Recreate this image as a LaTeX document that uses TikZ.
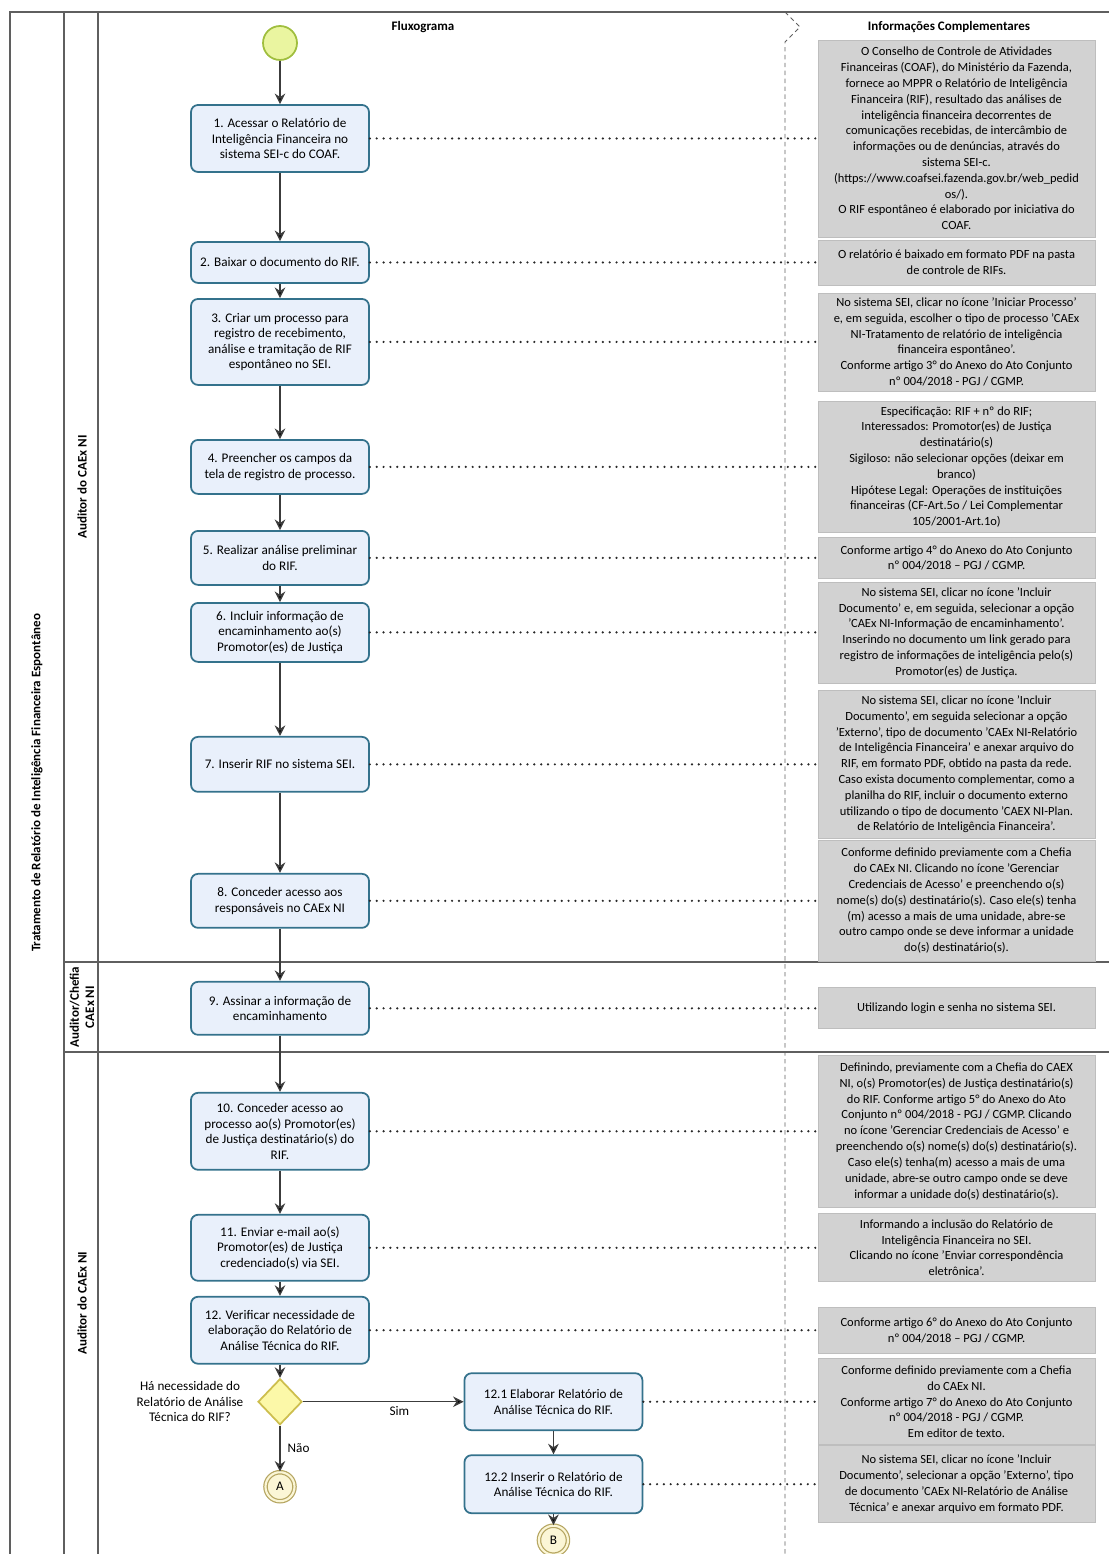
\documentclass[tikz,border=0pt]{standalone}
\usepackage{fontspec}
\setmainfont{Carlito}
\usetikzlibrary{
    arrows.meta,
    shapes.geometric,
    positioning
}
\definecolor{taskfill}{RGB}{233,240,251}
\definecolor{taskline}{RGB}{52,114,140}
\definecolor{notefill}{RGB}{210,210,210}
\definecolor{noteline}{RGB}{190,190,190}
\definecolor{flowline}{RGB}{60,60,60}
\definecolor{dotline}{RGB}{40,40,40}
\definecolor{laneline}{RGB}{95,95,95}
\definecolor{startfill}{RGB}{234,245,160}
\definecolor{startline}{RGB}{160,190,62}
\definecolor{endfill}{RGB}{251,246,214}
\definecolor{endline}{RGB}{182,166,98}
\definecolor{gwfill}{RGB}{252,248,168}
\definecolor{gwline}{RGB}{205,190,78}
\newcommand{\tasksize}{\fontsize{7.5}{8.8}\selectfont}
\newcommand{\notesize}{\fontsize{7.1}{9}\selectfont}
\newcommand{\lanesize}{\fontsize{7.4}{8.6}\selectfont\bfseries}
\tikzset{
    >={Stealth[length=6pt,width=6pt]},
    flow/.style={->, draw=flowline, line width=0.8pt},
    task/.style={draw=taskline, fill=taskfill, line width=1pt, rounded corners=4pt,
        minimum width=3.56cm, align=center, inner sep=2pt, font=\tasksize},
    note/.style={draw=noteline, fill=notefill, line width=0.4pt, minimum width=5.54cm,
        align=center, inner sep=1pt, font=\notesize},
    assoc/.style={draw=dotline, line width=1.4pt, line cap=round, dash pattern=on 0pt off 3.9pt},
    lane/.style={draw=laneline, line width=0.7pt},
    lanelabel/.style={rotate=90, align=center, font=\lanesize},
    group/.style={draw=laneline, line width=0.5pt, dash pattern=on 2.5pt off 2pt},
    startev/.style={circle, draw=startline, fill=startfill, line width=1pt, minimum size=0.68cm},
    endev/.style={circle, draw=endline, double=endfill, double distance=1.2pt, fill=endfill,
        line width=0.7pt, minimum size=0.58cm, inner sep=0pt, font=\tasksize},
    gateway/.style={diamond, draw=gwline, fill=gwfill, line width=1pt, minimum width=0.88cm,
        minimum height=0.92cm, inner sep=0pt},
}

\begin{document}
\begin{tikzpicture}[x=0.02cm, y=-0.02cm, on grid]
   \useasboundingbox (0,0) rectangle (1109,1554);
   % pool and lanes
   \draw[lane] (10,1554) -- (10,12) -- (1109,12);
   \draw[lane] (64,12) -- (64,1554);
   \draw[lane] (98,12) -- (98,1554);
   \draw[lane] (64,962) -- (1109,962);
   \draw[lane] (64,1052) -- (1109,1052);
   \draw[group] (785,12) -- (800,27) -- (785,42) -- (785,1554);
   \node[lanelabel] (pool) at (37,783) {Tratamento de Relatório de Inteligência Financeira Espontâneo};
   \node[lanelabel] (lane_1) at (82,487) {Auditor do CAEx NI};
   \node[lanelabel] (lane_2) at (82,1007) {Auditor/Chefia\\CAEx NI};
   \node[lanelabel] (lane_3) at (82,1303) {Auditor do CAEx NI};
   \node[font=\lanesize] (h_flow) at (423,27) {Fluxograma};
   \node[font=\lanesize] (h_info) at (949,27) {Informações Complementares};
   \coordinate (ncol) at (956.5,0);

   % flow
   \node[startev] (start) at (280,43) {};
   \node[task, minimum height=1.34cm] (t_1) [below=1.91cm of start] {1. Acessar o Relatório de\\Inteligência Financeira no\\sistema SEI-c do COAF.};
   \node[task, minimum height=0.82cm] (t_2) [below=2.48cm of t_1] {2. Baixar o documento do RIF.};
   \node[task, minimum height=1.72cm] (t_3) [below=1.59cm of t_2] {3. Criar um processo para\\registro de recebimento,\\análise e tramitação de RIF\\espontâneo no SEI.};
   \node[task, minimum height=1.08cm] (t_4) [below=2.5cm of t_3] {4. Preencher os campos da\\tela de registro de processo.};
   \node[task, minimum height=1.08cm] (t_5) [below=1.82cm of t_4] {5. Realizar análise preliminar\\do RIF.};
   \node[task, minimum height=1.18cm] (t_6) [below=1.49cm of t_5] {6. Incluir informação de\\encaminhamento ao(s)\\Promotor(es) de Justiça};
   \node[task, minimum height=1.1cm] (t_7) [below=2.64cm of t_6] {7. Inserir RIF no sistema SEI.};
   \node[task, minimum height=1.08cm] (t_8) [below=2.73cm of t_7] {8. Conceder acesso aos\\responsáveis no CAEx NI};
   \node[task, minimum height=1.06cm] (t_9) [below=2.15cm of t_8] {9. Assinar a informação de\\encaminhamento};
   \node[task, minimum height=1.54cm] (t_10) [below=2.46cm of t_9] {10. Conceder acesso ao\\processo ao(s) Promotor(es)\\de Justiça destinatário(s) do\\RIF.};
   \node[task, minimum height=1.32cm] (t_11) [below=2.33cm of t_10] {11. Enviar e-mail ao(s)\\Promotor(es) de Justiça\\credenciado(s) via SEI.};
   \node[task, minimum height=1.34cm] (t_12) [below=1.65cm of t_11] {12. Verificar necessidade de\\elaboração do Relatório de\\Análise Técnica do RIF.};
   \node[gateway] (gw) [below=1.43cm of t_12] {};
   \node[align=center, font=\tasksize] (gw_label) [left=1.8cm of gw] {Há necessidade do\\Relatório de Análise\\Técnica do RIF?};
   \node[endev] (e_A) [below=1.7cm of gw] {A};
   \node[task, minimum height=1.14cm] (t_121) [right=5.47cm of gw] {12.1 Elaborar Relatório de\\Análise Técnica do RIF.};
   \node[task, minimum height=1.16cm] (t_122) [below=1.65cm of t_121] {12.2 Inserir o Relatório de\\Análise Técnica do RIF.};
   \node[endev] (e_B) [below=1.12cm of t_122] {B};

   \path[flow]
    (start) edge (t_1)
    (t_1) edge (t_2)
    (t_2) edge (t_3)
    (t_3) edge (t_4)
    (t_4) edge (t_5)
    (t_5) edge (t_6)
    (t_6) edge (t_7)
    (t_7) edge (t_8)
    (t_8) edge (t_9)
    (t_9) edge (t_10)
    (t_10) edge (t_11)
    (t_11) edge (t_12)
    (t_12) edge (gw)
    (gw) edge node[pos=0.6, anchor=north, inner sep=2pt, font=\tasksize] {Sim} (t_121)
    (gw) edge node[anchor=west, inner sep=4pt, font=\tasksize] {Não} (e_A)
    (t_121) edge (t_122)
    (t_122) edge (e_B);

   % notes
   \node[note, minimum height=3.94cm] (n_1) at (t_1 -| ncol) {O Conselho de Controle de Atividades\\Financeiras (COAF), do Ministério da Fazenda,\\fornece ao MPPR o Relatório de Inteligência\\Financeira (RIF), resultado das análises de\\inteligência financeira decorrentes de\\comunicações recebidas, de intercâmbio de\\informações ou de denúncias, através do\\sistema SEI-c.\\(https://www.coafsei.fazenda.gov.br/web\_pedid\\os/).\\O RIF espontâneo é elaborado por iniciativa do\\COAF.};
   \node[note, minimum height=0.9cm] (n_2) at (t_2 -| ncol) {O relatório é baixado em formato PDF na pasta\\de controle de RIFs.};
   \node[note, minimum height=1.96cm] (n_3) at (t_3 -| ncol) {No sistema SEI, clicar no ícone 'Iniciar Processo'\\e, em seguida, escolher o tipo de processo 'CAEx\\NI-Tratamento de relatório de inteligência\\financeira espontâneo'.\\Conforme artigo 3° do Anexo do Ato Conjunto\\nº 004/2018 - PGJ / CGMP.};
   \node[note, minimum height=2.62cm] (n_4) at (t_4 -| ncol) {Especificação: RIF + nº do RIF;\\Interessados: Promotor(es) de Justiça\\destinatário(s)\\Sigiloso: não selecionar opções (deixar em\\branco)\\Hipótese Legal: Operações de instituições\\financeiras (CF-Art.5o / Lei Complementar\\105/2001-Art.1o)};
   \node[note, minimum height=0.82cm] (n_5) at (t_5 -| ncol) {Conforme artigo 4° do Anexo do Ato Conjunto\\nº 004/2018 – PGJ / CGMP.};
   \node[note, minimum height=2.02cm] (n_6) at (t_6 -| ncol) {No sistema SEI, clicar no ícone 'Incluir\\Documento' e, em seguida, selecionar a opção\\'CAEx NI-Informação de encaminhamento'.\\Inserindo no documento um link gerado para\\registro de informações de inteligência pelo(s)\\Promotor(es) de Justiça.};
   \node[note, minimum height=2.98cm] (n_7) at (t_7 -| ncol) {No sistema SEI, clicar no ícone 'Incluir\\Documento', em seguida selecionar a opção\\'Externo', tipo de documento 'CAEx NI-Relatório\\de Inteligência Financeira' e anexar arquivo do\\RIF, em formato PDF, obtido na pasta da rede.\\Caso exista documento complementar, como a\\planilha do RIF, incluir o documento externo\\utilizando o tipo de documento 'CAEX NI-Plan.\\de Relatório de Inteligência Financeira'.};
   \node[note, minimum height=2.42cm] (n_8) at (t_8 -| ncol) {Conforme definido previamente com a Chefia\\do CAEx NI. Clicando no ícone 'Gerenciar\\Credenciais de Acesso' e preenchendo o(s)\\nome(s) do(s) destinatário(s). Caso ele(s) tenha\\(m) acesso a mais de uma unidade, abre-se\\outro campo onde se deve informar a unidade\\do(s) destinatário(s).};
   \node[note, minimum height=0.82cm] (n_9) at (t_9 -| ncol) {Utilizando login e senha no sistema SEI.};
   \node[note, minimum height=3.04cm] (n_10) at (t_10 -| ncol) {Definindo, previamente com a Chefia do CAEX\\NI, o(s) Promotor(es) de Justiça destinatário(s)\\do RIF. Conforme artigo 5° do Anexo do Ato\\Conjunto nº 004/2018 - PGJ / CGMP. Clicando\\no ícone 'Gerenciar Credenciais de Acesso' e\\preenchendo o(s) nome(s) do(s) destinatário(s).\\Caso ele(s) tenha(m) acesso a mais de uma\\unidade, abre-se outro campo onde se deve\\informar a unidade do(s) destinatário(s).};
   \node[note, minimum height=1.36cm] (n_11) at (t_11 -| ncol) {Informando a inclusão do Relatório de\\Inteligência Financeira no SEI.\\Clicando no ícone 'Enviar correspondência\\eletrônica'.};
   \node[note, minimum height=0.92cm] (n_12) at (t_12 -| ncol) {Conforme artigo 6° do Anexo do Ato Conjunto\\nº 004/2018 – PGJ / CGMP.};
   \node[note, minimum height=1.72cm] (n_13) at (t_121 -| ncol) {Conforme definido previamente com a Chefia\\do CAEx NI.\\Conforme artigo 7° do Anexo do Ato Conjunto\\nº 004/2018 - PGJ / CGMP.\\Em editor de texto.};
   \node[note, minimum height=1.54cm] (n_14) at (t_122 -| ncol) {No sistema SEI, clicar no ícone 'Incluir\\Documento', selecionar a opção 'Externo', tipo\\de documento 'CAEx NI-Relatório de Análise\\Técnica' e anexar arquivo em formato PDF.};

   \foreach \i in {1,...,12}
     \draw[assoc] (t_\i) -- (n_\i);
   \draw[assoc] (t_121) -- (n_13);
   \draw[assoc] (t_122) -- (n_14);
\end{tikzpicture}
\end{document}
